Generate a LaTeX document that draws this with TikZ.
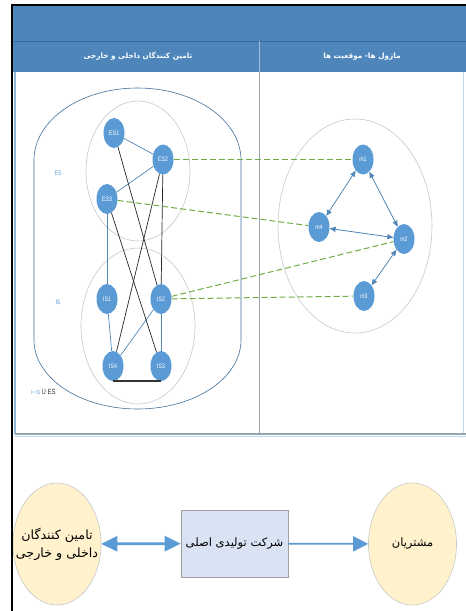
\documentclass[tikz,border=0pt]{standalone}
\usepackage{fontspec}
\usetikzlibrary{shapes.geometric,arrows.meta}
\TeXXeTstate=1
\newfontfamily\arabicfont[Script=Arabic]{DejaVu Sans}
\newfontfamily\labfont[FakeStretch=0.8]{Liberation Sans}
\definecolor{hdr}{RGB}{78,134,188}
\definecolor{hdrline}{RGB}{60,105,150}
\definecolor{nodeblue}{RGB}{91,155,213}
\definecolor{edgeblue}{RGB}{80,135,185}
\definecolor{dashgreen}{RGB}{112,173,71}
\definecolor{stadium}{RGB}{65,113,156}
\definecolor{lightgrey}{RGB}{200,200,200}
\definecolor{tablegrey}{RGB}{150,165,172}
\definecolor{tableblue}{RGB}{190,215,235}
\definecolor{yel}{RGB}{255,242,204}
\definecolor{rectfill}{RGB}{218,227,243}
\tikzset{
  nd/.style={ellipse, fill=nodeblue, draw=none, minimum width=21pt, minimum height=30pt, inner sep=0pt, text=white, font=\labfont\fontsize{6.5}{7}\selectfont},
  bl/.style={draw=edgeblue, line width=0.7pt},
  blk/.style={draw=black!85, line width=0.7pt},
  gd/.style={draw=dashgreen, line width=1pt, dash pattern=on 6pt off 3pt},
  marrow/.style={draw=edgeblue, line width=0.8pt, {Triangle[length=6pt,width=5pt]}-{Triangle[length=6pt,width=5pt]}},
  bigell/.style={ellipse, draw=lightgrey, fill=yel, line width=0.6pt, minimum width=88pt, minimum height=122pt, inner sep=0pt},
  bigtext/.style={align=center, inner sep=0pt},
  firm/.style={rectangle, draw=lightgrey!80!black, fill=rectfill, line width=0.6pt, minimum width=107pt, minimum height=67pt, inner sep=0pt, font=\arabicfont\fontsize{11.5}{13}\selectfont},
  hdrtext/.style={text=white, font=\arabicfont\bfseries\fontsize{7.3}{8}\selectfont}
}
\begin{document}
\begin{tikzpicture}[x=1pt,y=-1pt]
\useasboundingbox (0,0) rectangle (466,611);
\fill[white] (0,0) rectangle (466,611);
% header
\fill[hdr] (13,5) rectangle (466,72);
\draw[hdrline, line width=0.6pt] (13,41) -- (466,41);
\draw[tableblue!70!hdr, line width=0.5pt] (259.5,41) -- (259.5,72);
\node[hdrtext] (hleft) at (138,56.5) {\beginR تامین کنندگان داخلی و خارجی\endR};
\node[hdrtext] (hright) at (362,56.5) {\beginR ماژول ها- موقعیت ها\endR};
% table body
\draw[tableblue!60!hdr, line width=1.2pt] (15,72) -- (15,434);
\draw[tableblue, line width=0.8pt] (463,72) -- (463,434);
\draw[tablegrey, line width=1.2pt] (15,434) -- (466,434);
\draw[tableblue, line width=0.8pt] (15,436) -- (466,436);
\draw[tablegrey, line width=0.8pt] (259.5,72) -- (259.5,434);
% left panel shapes
\draw[stadium, line width=0.6pt] (34,340) -- (34,160) arc[start angle=180, end angle=360, x radius=103.5, y radius=72] -- (241,340) arc[start angle=0, end angle=180, x radius=103.5, y radius=69] -- cycle;
\draw[lightgrey, line width=0.6pt] (138,171) ellipse [x radius=52, y radius=70];
\draw[lightgrey, line width=0.6pt] (138,326) ellipse [x radius=57, y radius=78];
% right panel ellipse
\draw[lightgrey, line width=0.6pt] (355,226) ellipse [x radius=77, y radius=107];
% labels
\node[text=nodeblue, font=\labfont\fontsize{6.5}{7}\selectfont] (esl) at (58,173) {ES};
\node[text=nodeblue, font=\labfont\fontsize{6.5}{7}\selectfont] (isl) at (58,302) {IS};
\node[anchor=west, inner sep=0pt] (ilab) at (31,392) {{\color{nodeblue}\labfont\fontsize{5.5}{6}\selectfont I= IS }{\color{black!80}\labfont\fontsize{7.5}{8}\selectfont U ES}};
% nodes
\node[nd] (ES1) at (114,133) {ES1};
\node[nd] (ES2) at (163,159.5) {ES2};
\node[nd] (ES3) at (107,199) {ES3};
\node[nd] (IS1) at (107,299) {IS1};
\node[nd] (IS2) at (161,299) {IS2};
\node[nd] (IS4) at (113,366) {IS4};
\node[nd] (IS3) at (161,366) {IS3};
\node[nd] (m1) at (363,159.5) {m1};
\node[nd] (m4) at (319,227) {m4};
\node[nd] (m2) at (404,239) {m2};
\node[nd] (m3) at (364,296) {m3};
% left edges
\draw[bl] (ES1) -- (ES2);
\draw[bl] (ES2) -- (ES3);
\draw[bl] (ES3) -- (IS1);
\draw[bl] (IS1) -- (IS4);
\draw[bl] (IS2) -- (IS4);
\draw[bl] (IS2) -- (IS3);
\draw[blk] (ES1) -- (IS2);
\draw[blk] (ES3) -- (IS3);
\draw[blk] (ES2) -- (IS4);
\draw[blk] (ES2) -- (IS2);
\draw[black!80, line width=1.5pt] (IS4.south) -- (IS3.south);
% dashed links
\draw[gd] (ES2) -- (m1);
\draw[gd] (ES3) -- (m4);
\draw[gd] (IS2) -- (m2);
\draw[gd] (IS2) -- (m3);
% module arrows
\draw[marrow] (m1) -- (m4);
\draw[marrow] (m1) -- (m2);
\draw[marrow] (m4) -- (m2);
\draw[marrow] (m2) -- (m3);
% bottom chain
\node[bigell] (sup) at (57,544) {};
\node[bigtext, font=\arabicfont\fontsize{12.7}{18}\selectfont] (suptext) at (sup.center) {\beginR تامین کنندگان\endR\\\beginR داخلی و خارجی\endR};
\node[firm] (firmnode) at (234.5,543.5) {\beginR شرکت تولیدی اصلی\endR};
\node[bigell] (cust) at (412.5,544) {};
\node[bigtext, font=\arabicfont\fontsize{11.5}{13}\selectfont] (custtext) at (cust.center) {\beginR مشتریان\endR};
\draw[draw=nodeblue, line width=2.8pt, {Triangle[length=16pt,width=15pt]}-{Triangle[length=16pt,width=15pt]}] (sup) -- (firmnode);
\draw[draw=nodeblue, line width=1.8pt, -{Triangle[length=15pt,width=15pt]}] (firmnode) -- (cust);
% black frame
\draw[black, line width=1.5pt] (12,611) -- (12,5) -- (466,5);
\end{tikzpicture}
\end{document}
